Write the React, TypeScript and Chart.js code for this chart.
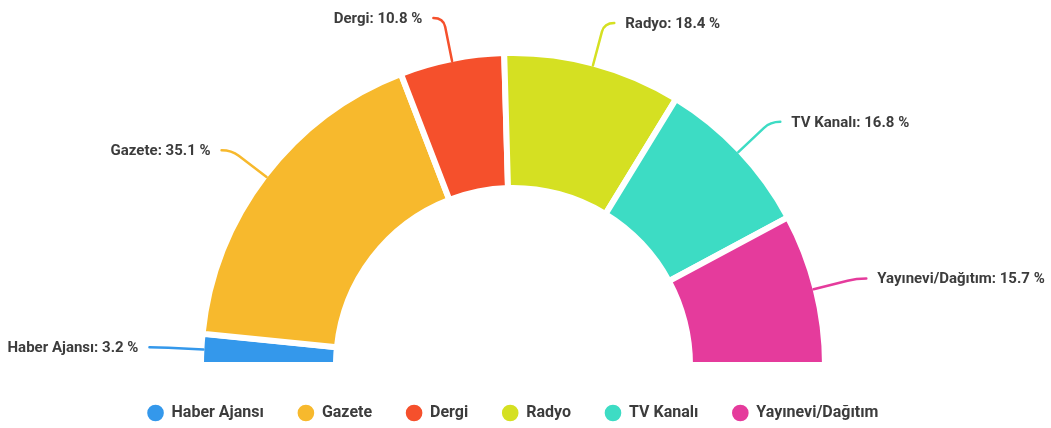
import React, { useEffect, useRef } from "react";
import { Chart, registerables } from "chart.js";

Chart.register(...registerables);

const categories = ["Haber Ajansı", "Gazete", "Dergi", "Radyo", "TV Kanalı", "Yayınevi/Dağıtım"];
const values = [3.2, 35.1, 10.8, 18.4, 16.8, 15.7];
const colors = ["#3498eb", "#f7b92d", "#f5502c", "#d5e022", "#3ddcc4", "#e53b9c"];

const BORDER = 6;
const TEXT_COLOR = "#3c3c3c";
const FONT_FAMILY = "Roboto, 'Noto Sans', sans-serif";

const outLabelPlugin = {
  id: "outLabels",
  afterDatasetsDraw(chart: any) {
    const ctx = chart.ctx as CanvasRenderingContext2D;
    const meta = chart.getDatasetMeta(0);
    meta.data.forEach((arc: any, i: number) => {
      const { x, y, startAngle, endAngle, outerRadius } = arc.getProps(
        ["x", "y", "startAngle", "endAngle", "outerRadius"],
        true
      );
      const mid = (startAngle + endAngle) / 2;
      const r = outerRadius - BORDER / 2;
      const c = Math.cos(mid);
      const s = Math.sin(mid);
      const side = c >= 0 ? 1 : -1;
      const p0x = x + c * (r + 1), p0y = y + s * (r + 1);
      const pax = x + c * (r + 36), pay = y + s * (r + 36);
      const p1x = x + c * (r + 45), p1y = y + s * (r + 45);
      const p2x = p1x + side * 10, p2y = p1y;
      ctx.save();
      ctx.strokeStyle = colors[i];
      ctx.lineWidth = 2.5;
      ctx.lineCap = "round";
      ctx.lineJoin = "round";
      ctx.beginPath();
      ctx.moveTo(p0x, p0y);
      ctx.lineTo(pax, pay);
      ctx.quadraticCurveTo(p1x, p1y, p2x, p2y);
      ctx.stroke();
      ctx.font = `bold 15px ${FONT_FAMILY}`;
      ctx.fillStyle = TEXT_COLOR;
      ctx.textAlign = side > 0 ? "left" : "right";
      ctx.textBaseline = "middle";
      const label = `${categories[i]}: ${values[i].toFixed(1)} %`;
      ctx.fillText(label, p2x + side * 11, p2y + 1);
      ctx.restore();
    });
  },
};

export default function App() {
  const ref = useRef<HTMLCanvasElement>(null);
  useEffect(() => {
    if (!ref.current) return;
    Chart.defaults.font.family = FONT_FAMILY;
    const chart = new Chart(ref.current, {
      type: "doughnut",
      data: {
        labels: categories,
        datasets: [
          {
            data: values,
            backgroundColor: colors,
            borderColor: "#ffffff",
            borderWidth: BORDER,
            borderJoinStyle: "miter",
            hoverOffset: 0,
          } as any,
        ],
      },
      options: {
        responsive: true,
        maintainAspectRatio: false,
        animation: false,
        rotation: -90,
        circumference: 180,
        radius: 312,
        cutout: "56.73%",
        layout: { padding: { top: 47, left: 0, right: 25, bottom: 0 } },
        plugins: {
          tooltip: { enabled: false },
          legend: {
            position: "bottom",
            labels: {
              usePointStyle: true,
              pointStyle: "circle",
              padding: 34,
              color: TEXT_COLOR,
              font: { size: 16, weight: "bold", family: FONT_FAMILY },
            },
          },
        },
      } as any,
      plugins: [outLabelPlugin],
    });
    return () => chart.destroy();
  }, []);
  return (
    <div style={{ position: "fixed", left: 0, top: 0, width: 1051, height: 431 }}>
      <canvas ref={ref} />
    </div>
  );
}
